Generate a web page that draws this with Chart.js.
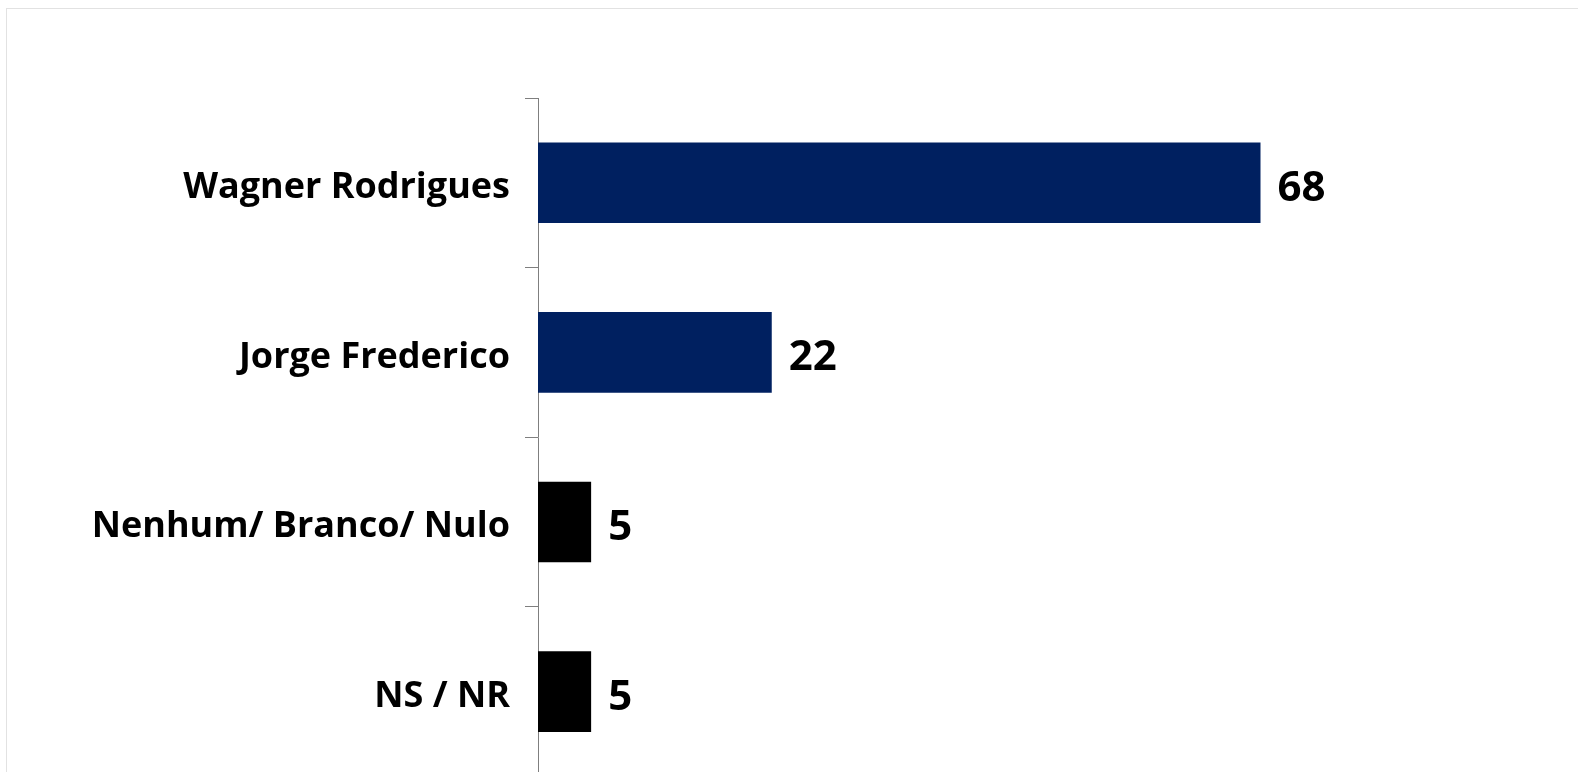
<!DOCTYPE html>
<html>
<head>
<meta charset="utf-8">
<script src="https://cdn.jsdelivr.net/npm/chart.js@4/dist/chart.umd.min.js"></script>
<style>
    html, body { margin: 0; padding: 0; background: #fff; overflow: hidden; width: 1578px; height: 772px; }
    #frame { position: absolute; left: 6px; top: 8px; width: 1700px; height: 900px; border: 1px solid #e2e2e2; }
    #chart { position: absolute; left: 0; top: 0; }
</style>
</head>
<body>
<div id="frame"></div>
<canvas id="chart" width="1578" height="813"></canvas>
<script>
// Intenção de voto
const categories = ['Wagner Rodrigues', 'Jorge Frederico', 'Nenhum/ Branco/ Nulo', 'NS / NR'];
const values = [68, 22, 5, 5];
const barColors = ['#002060', '#002060', '#000000', '#000000'];

const FONT = "'Open Sans', sans-serif";

// Draw the value next to the end of each bar
const valueLabels = {
    id: 'valueLabels',
    afterDatasetsDraw(chart) {
        const ctx = chart.ctx;
        const meta = chart.getDatasetMeta(0);
        ctx.save();
        ctx.fillStyle = '#000';
        ctx.font = `bold 42px ${FONT}`;
        ctx.textAlign = 'left';
        ctx.textBaseline = 'alphabetic';
        meta.data.forEach((bar, i) => {
            ctx.fillText(String(values[i]), bar.x + 17, bar.y + 18);
        });
        ctx.restore();
    }
};

new Chart(document.getElementById('chart'), {
    type: 'bar',
    data: {
        labels: categories,
        datasets: [{
            data: values,
            backgroundColor: barColors,
            borderWidth: 0,
            categoryPercentage: 1,
            barPercentage: 0.475
        }]
    },
    options: {
        indexAxis: 'y',
        responsive: false,
        animation: false,
        devicePixelRatio: 1,
        layout: {
            // the y scale keeps ~37px below its last band for the tick label
            padding: { top: 98, right: 190, bottom: 0, left: 0 }
        },
        plugins: {
            legend: { display: false },
            tooltip: { enabled: false }
        },
        scales: {
            x: {
                display: false,
                min: 0,
                max: 80
            },
            y: {
                afterFit(scale) {
                    scale.width = 538;
                },
                afterUpdate(scale) {
                    // nudge the category labels down a little so they sit level with the bars
                    const getItems = scale.getLabelItems.bind(scale);
                    scale.getLabelItems = (area) => {
                        const items = getItems(area);
                        if (!items._nudged) {
                            items.forEach(item => { item.textOffset += 5; });
                            items._nudged = true;
                        }
                        return items;
                    };
                },
                border: { display: true, color: '#7f7f7f', width: 1 },
                grid: {
                    drawOnChartArea: false,
                    drawTicks: true,
                    tickLength: 13,
                    color: '#7f7f7f',
                    offset: true
                },
                ticks: {
                    color: '#000',
                    padding: 15,
                    font: { family: FONT, size: 36, weight: 'bold' }
                }
            }
        }
    },
    plugins: [valueLabels]
});
</script>
</body>
</html>
